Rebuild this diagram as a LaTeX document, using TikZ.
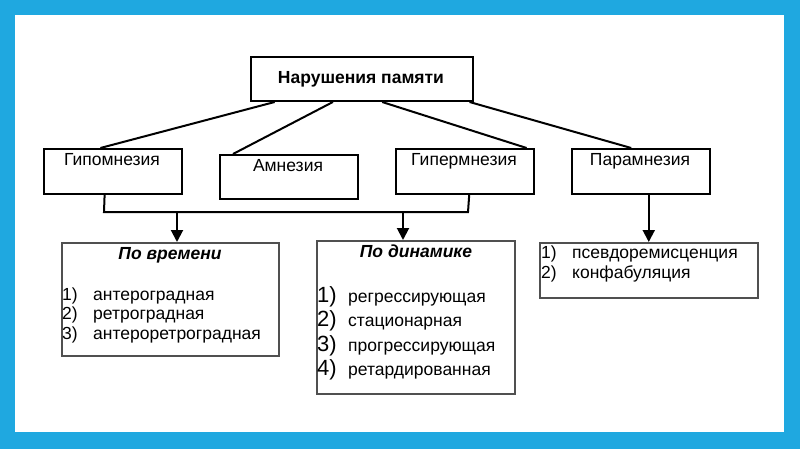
\documentclass[tikz,border=0pt]{standalone}
\usepackage{fontspec}
\setmainfont{Liberation Sans}
\usetikzlibrary{arrows.meta,calc}

\definecolor{frameblue}{RGB}{31,168,224}
\definecolor{listgray}{RGB}{80,80,80}

\begin{document}
\begin{tikzpicture}[x=1pt,y=-1pt,
    box/.style={draw, line width=2pt, rectangle, inner sep=0pt, anchor=north west},
    listbox/.style={draw=listgray, line width=1.5pt, rectangle, inner sep=0pt, anchor=north west},
    lbl/.style={font=\fontsize{17.5}{21}\selectfont, anchor=base, inner sep=0pt},
    head/.style={font=\fontsize{17.5}{21}\selectfont\bfseries\itshape, anchor=base, inner sep=0pt},
    item/.style={font=\fontsize{17.5}{21}\selectfont, anchor=base west, inner sep=0pt},
    bignum/.style={font=\fontsize{22}{26}\selectfont, anchor=base west, inner sep=0pt},
    conn/.style={line width=2pt},
    arr/.style={line width=2pt, -{Triangle[length=12pt,width=12pt]}}]

    % frame
    \useasboundingbox (0,0) rectangle (800,449);
    \fill[frameblue] (0,0) rectangle (800,449);
    \fill[white] (15,15) rectangle (784,432);

    % top level
    \node[box, minimum width=222pt, minimum height=44pt] (nar) at (250,56) {};
    \node[lbl, font=\fontsize{17.5}{21}\selectfont\bfseries] (narT) at (361,84) {Нарушения памяти};

    % kinds
    \node[box, minimum width=138pt, minimum height=45pt] (hypo) at (43,148) {};
    \node[box, minimum width=138pt, minimum height=44pt] (amn) at (219,154) {};
    \node[box, minimum width=138pt, minimum height=45pt] (hyper) at (395,148) {};
    \node[box, minimum width=138pt, minimum height=45pt] (para) at (571,148) {};
    \node[lbl] (hypoT) at (112,166) {Гипомнезия};
    \node[lbl] (amnT) at (288,172) {Амнезия};
    \node[lbl] (hyperT) at (464,166) {Гипермнезия};
    \node[lbl] (paraT) at (640,166) {Парамнезия};

    \foreach \a/\b/\c in {.11/hypo/.41, .37/amn/.10, .59/hyper/.94, .98/para/.43}
        \draw[conn] ($(nar.south west)!\a!(nar.south east)$) -- ($(\b.north west)!\c!(\b.north east)$);

    % lists
    \node[listbox, minimum width=217pt, minimum height=113pt] (vrem) at (61,242) {};
    \node[listbox, minimum width=198pt, minimum height=153pt] (dyn) at (316,240) {};
    \node[listbox, minimum width=218pt, minimum height=55pt] (pbox) at (539,242) {};

    \node[head] (vremT) at (170,259) {По времени};
    \node[head] (dynT) at (416,257) {По динамике};

    \foreach \t [count=\i] in {антероградная, ретроградная, антероретроградная} {
        \node[item] (vn\i) at (62,{280.5+19.5*\i}) {\i)};
        \node[item] (vt\i) at (93,{280.5+19.5*\i}) {\t};
    }
    \foreach \t [count=\i] in {регрессирующая, стационарная, прогрессирующая, ретардированная} {
        \node[bignum] (dn\i) at (317,{277.5+24.5*\i}) {\i)};
        \node[item] (dt\i) at (348,{277.5+24.5*\i}) {\t};
    }
    \foreach \t [count=\i] in {псевдоремисценция, конфабуляция} {
        \node[item] (pn\i) at (541,{238+20*\i}) {\i)};
        \node[item] (pt\i) at (572,{238+20*\i}) {\t};
    }

    % bus and arrows
    \coordinate (busL) at (104,212);
    \coordinate (busR) at (468,212);
    \coordinate (b1) at (177,212);
    \coordinate (b2) at (403,212);
    \draw[conn] ($(hypo.south west)!.44!(hypo.south east)$) -- (busL) -- (busR)
        -- ($(hyper.south west)!.53!(hyper.south east)$);
    \draw[conn] ($(amn.south west)!.56!(amn.south east)$) -- ($(amn.south west)!.56!(amn.south east)$ |- busL);
    \draw[arr] (b1) -- (b1 |- vrem.north);
    \draw[arr] (b2) -- (b2 |- dyn.north);
    \draw[arr] (para.south -| pbox.north) -- (pbox.north);
\end{tikzpicture}
\end{document}
